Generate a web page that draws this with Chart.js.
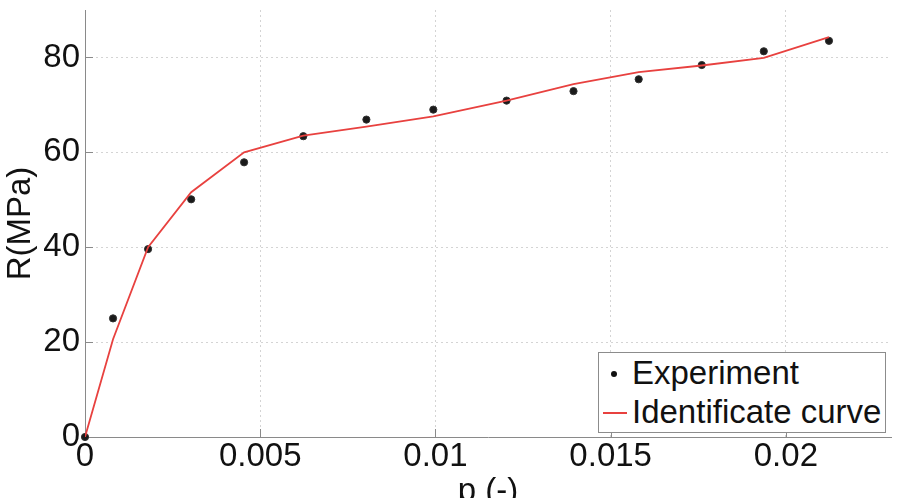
<!DOCTYPE html>
<html>
<head>
<meta charset="utf-8">
<script src="https://cdn.jsdelivr.net/npm/chart.js@4/dist/chart.umd.min.js"></script>
<style>
html,body{margin:0;padding:0;background:#fff;overflow:hidden;}
#wrap{position:relative;width:900px;height:530px;}
#c{position:absolute;left:0;top:0;}
#legend{position:absolute;left:598px;top:352px;width:288px;height:81px;box-sizing:border-box;border:1px solid #8c8c8c;background:#fff;font-family:"Liberation Sans",Arial,sans-serif;font-size:33px;line-height:33px;color:#111;}
#legend .txt{position:absolute;left:33px;white-space:nowrap;}
#legend .dot{position:absolute;width:6px;height:6px;border-radius:50%;background:#111;}
#legend .ln{position:absolute;height:2px;width:24px;background:#e8413f;}
</style>
</head>
<body>
<div id="wrap">
<canvas id="c" width="900" height="530"></canvas>
<div id="legend"></div>
</div>
<script>
// ---- data ----
const pExp = [0, 0.0008, 0.0018, 0.00303, 0.00454, 0.00623, 0.00803, 0.00994, 0.01203, 0.01394, 0.0158, 0.0176, 0.01937, 0.02123];
const rExp = [0, 25.0, 39.6, 50.1, 57.9, 63.4, 66.9, 69.0, 70.9, 72.9, 75.4, 78.4, 81.3, 83.5];
const pFit = [0, 0.0008, 0.0018, 0.00303, 0.00454, 0.00623, 0.00803, 0.00994, 0.01203, 0.01394, 0.0158, 0.0176, 0.01937, 0.02123];
const rFit = [0, 20.6, 40.0, 51.6, 60.0, 63.5, 65.4, 67.6, 70.9, 74.4, 76.9, 78.3, 79.9, 84.3];
const xTicks = [0, 0.005, 0.01, 0.015, 0.02];
const yTicks = [0, 20, 40, 60, 80];
const seriesNames = ['Experiment', 'Identificate curve'];
const xTitle = 'p (-)';
const yTitle = 'R(MPa)';

const FONT = '"Liberation Sans", Arial, sans-serif';
const AXIS = '#8a8a8a';
const TXT = '#111111';
const H = 530;

const inwardTicks = {
  id: 'inwardTicks',
  beforeDatasetsDraw(chart) {
    const {ctx, chartArea: a, scales: {x, y}} = chart;
    ctx.save();
    ctx.strokeStyle = AXIS;
    ctx.lineWidth = 1;
    ctx.beginPath();
    xTicks.forEach(v => {
      const px = Math.round(x.getPixelForValue(v)) + 0.5;
      ctx.moveTo(px, a.bottom); ctx.lineTo(px, a.bottom - 8);
    });
    yTicks.forEach(v => {
      const py = Math.round(y.getPixelForValue(v)) + 0.5;
      ctx.moveTo(a.left, py); ctx.lineTo(a.left + 8, py);
    });
    ctx.stroke();
    ctx.restore();
  }
};

const chart = new Chart(document.getElementById('c'), {
  type: 'scatter',
  data: {
    datasets: [
      {
        label: seriesNames[1],
        data: pFit.map((p, i) => ({x: p, y: rFit[i]})),
        showLine: true,
        borderColor: '#e8413f',
        borderWidth: 1.8,
        pointRadius: 0,
        tension: 0,
        order: 0
      },
      {
        label: seriesNames[0],
        data: pExp.map((p, i) => ({x: p, y: rExp[i]})),
        showLine: false,
        pointRadius: 3.6,
        pointBackgroundColor: '#1a1a1a',
        pointBorderColor: '#333',
        pointBorderWidth: 1,
        clip: false,
        order: 1
      }
    ]
  },
  options: {
    responsive: false,
    devicePixelRatio: 1,
    animation: false,
    layout: {padding: {top: 10, right: 9, left: 0, bottom: 0}},
    plugins: {legend: {display: false}, tooltip: {enabled: false}},
    scales: {
      x: {
        type: 'linear', min: 0, max: 0.023,
        afterBuildTicks: s => { s.ticks = xTicks.map(v => ({value: v})); },
        afterFit: s => { s.height = H - 437; s.paddingLeft = 0; s.paddingRight = 0; s.paddingTop = 0; s.paddingBottom = 0; },
        grid: {color: '#d4d4d4', lineWidth: 1, drawTicks: false},
        border: {color: AXIS, width: 1, dash: [2, 3]},
        ticks: {padding: 0, color: TXT, font: {family: FONT, size: 33}, maxRotation: 0, autoSkip: false,
                callback: v => String(v)},
        title: {display: true, text: xTitle, color: TXT, font: {family: FONT, size: 33}, padding: {top: 0, bottom: 18}}
      },
      y: {
        type: 'linear', min: 0, max: 90,
        afterBuildTicks: s => { s.ticks = yTicks.map(v => ({value: v})); },
        afterFit: s => { s.width = 85; s.paddingTop = 0; s.paddingBottom = 0; s.paddingLeft = 0; s.paddingRight = 0; },
        grid: {color: '#d4d4d4', lineWidth: 1, drawTicks: false},
        border: {color: AXIS, width: 1, dash: [2, 3]},
        ticks: {padding: 5, color: TXT, font: {family: FONT, size: 33}, callback: v => String(v)},
        title: {display: true, text: yTitle, color: TXT, font: {family: FONT, size: 33}, padding: {top: 1, bottom: 0}}
      }
    }
  },
  plugins: [inwardTicks]
});

// HTML legend built from the chart's datasets
const lg = document.getElementById('legend');
const byName = {};
chart.data.datasets.forEach(d => byName[d.label] = d);
seriesNames.forEach((name, i) => {
  const top = 3 + i * 39;
  const ds = byName[name];
  if (ds.showLine) {
    const l = document.createElement('div');
    l.className = 'ln';
    l.style.left = '4px'; l.style.top = (top + 17) + 'px';
    l.style.background = ds.borderColor;
    lg.appendChild(l);
  } else {
    const d = document.createElement('div');
    d.className = 'dot';
    d.style.left = '12px'; d.style.top = (top + 15) + 'px';
    lg.appendChild(d);
  }
  const t = document.createElement('div');
  t.className = 'txt';
  t.style.top = top + 'px';
  t.textContent = name;
  lg.appendChild(t);
});
</script>
</body>
</html>
